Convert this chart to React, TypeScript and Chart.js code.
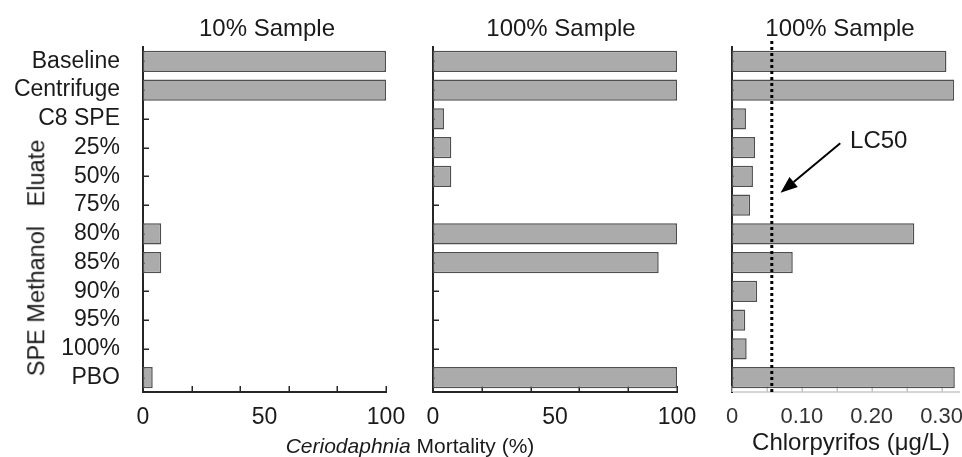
import React, { useEffect, useRef } from "react";
import { Chart, registerables } from "chart.js";

Chart.register(...registerables);

// ---------------- data ----------------
const categories = [
  "Baseline",
  "Centrifuge",
  "C8 SPE",
  "25%",
  "50%",
  "75%",
  "80%",
  "85%",
  "90%",
  "95%",
  "100%",
  "PBO",
];
const mortality10 = [100, 100, 0, 0, 0, 0, 7.5, 7.5, 0, 0, 0, 4];
const mortality100 = [100, 100, 4.5, 7.5, 7.5, 0, 100, 92.5, 0, 0, 0, 100];
const chlorpyrifos100 = [
  0.307, 0.318, 0.02, 0.033, 0.03, 0.026, 0.261, 0.087, 0.036, 0.019, 0.021, 0.319,
];
const panelTitles = ["10% Sample", "100% Sample", "100% Sample"];
const mortalityTickMarks = [0, 20, 40, 60, 80, 100];
const mortalityLabelValues = [0, 50, 100];
const mortalityLabelTexts = ["0", "50", "100"];
const chlorTickMarks = [0, 0.05, 0.1, 0.15, 0.2, 0.25, 0.3];
const chlorLabelValues = [0, 0.1, 0.2, 0.3];
const chlorLabelTexts = ["0", "0.10", "0.20", "0.30"];
const lc50Value = 0.057;
const lc50Label = "LC50";
// annotation anchors in data units: [µg/L, category index]
const lc50ArrowFrom = [0.155, 2.85];
const lc50ArrowTo = [0.0695, 4.57];
const lc50LabelAt = [0.169, 2.79];
const groupLabel = "SPE Methanol   Eluate";
const mortalityAxisItalic = "Ceriodaphnia";
const mortalityAxisRest = " Mortality (%)";
const chlorAxisTitle = "Chlorpyrifos (\u03bcg/L)";

// ---------------- layout ----------------
const W = 962;
const H = 457;
const CW = W + 40; // canvas wider than the view so edge labels never squeeze the plot
const PLOT_TOP = 47;
const PLOT_BOTTOM = 392;
const XAXIS_H = 40;
const FONT = '"Liberation Sans", Arial, Helvetica, sans-serif';
const NARROW = '"Liberation Sans Narrow", "Arial Narrow", "Liberation Sans", Arial, sans-serif';
const TEXT = "#1a1a1a";
const BAR_FILL = "#ababab";
const BAR_BORDER = "#4f4f4f";

type Panel = {
  values: number[];
  left: number;
  right: number;
  yW: number;
  showY: boolean;
  max: number;
  step: number;
  marks: number[];
  labelValues: number[];
  labelTexts: string[];
  tickFamily: string;
  tickSize: number;
  tickColor: string;
  xBorderColor: string;
  markColor: string;
  lc50: boolean;
};

const panels: Panel[] = [
  {
    values: mortality10,
    left: 143,
    right: 386,
    yW: 143,
    showY: true,
    max: 100,
    step: 10,
    marks: mortalityTickMarks,
    labelValues: mortalityLabelValues,
    labelTexts: mortalityLabelTexts,
    tickFamily: FONT,
    tickSize: 23,
    tickColor: TEXT,
    xBorderColor: "#262626",
    markColor: "#262626",
    lc50: false,
  },
  {
    values: mortality100,
    left: 433,
    right: 677,
    yW: 10,
    showY: false,
    max: 100,
    step: 10,
    marks: mortalityTickMarks,
    labelValues: mortalityLabelValues,
    labelTexts: mortalityLabelTexts,
    tickFamily: FONT,
    tickSize: 23,
    tickColor: TEXT,
    xBorderColor: "#262626",
    markColor: "#262626",
    lc50: false,
  },
  {
    values: chlorpyrifos100,
    left: 732,
    right: 959,
    yW: 10,
    showY: false,
    max: 0.325,
    step: 0.05,
    marks: chlorTickMarks,
    labelValues: chlorLabelValues,
    labelTexts: chlorLabelTexts,
    tickFamily: NARROW,
    tickSize: 22,
    tickColor: "#333333",
    xBorderColor: "#d6d6d6",
    markColor: "#c4c4c4",
    lc50: true,
  },
];

const titleCenters = [267, 561, 840];

function inwardTicks(p: Panel) {
  return {
    id: "inwardTicks",
    beforeDatasetsDraw(chart: any) {
      const { ctx, chartArea, scales } = chart;
      ctx.save();
      ctx.lineWidth = 1.5;
      ctx.strokeStyle = p.markColor;
      ctx.beginPath();
      for (const v of p.marks) {
        const px = Math.round(scales.x.getPixelForValue(v)) + 0.25;
        ctx.moveTo(px, chartArea.bottom);
        ctx.lineTo(px, chartArea.bottom - 6);
      }
      ctx.stroke();
      ctx.strokeStyle = "#262626";
      ctx.beginPath();
      categories.forEach((_, i) => {
        const py = Math.round(scales.y.getPixelForValue(i)) + 0.25;
        ctx.moveTo(chartArea.left, py);
        ctx.lineTo(chartArea.left + 6, py);
      });
      ctx.stroke();
      ctx.restore();
    },
  };
}

const lc50Plugin = {
  id: "lc50",
  afterDatasetsDraw(chart: any) {
    const { ctx, chartArea } = chart;
    const x = chart.scales.x;
    const y = chart.scales.y;
    const px = x.getPixelForValue(lc50Value);
    ctx.save();
    ctx.strokeStyle = "#000";
    ctx.fillStyle = "#000";
    ctx.lineWidth = 3;
    ctx.setLineDash([3, 3]);
    ctx.beginPath();
    ctx.moveTo(px, chartArea.top - 6);
    ctx.lineTo(px, chartArea.bottom);
    ctx.stroke();
    ctx.setLineDash([]);

    const x1 = x.getPixelForValue(lc50ArrowFrom[0]);
    const y1 = y.getPixelForValue(lc50ArrowFrom[1]);
    const x2 = x.getPixelForValue(lc50ArrowTo[0]);
    const y2 = y.getPixelForValue(lc50ArrowTo[1]);
    const ang = Math.atan2(y2 - y1, x2 - x1);
    const headLen = 17;
    const headW = 6.5;
    const bx = x2 - headLen * Math.cos(ang);
    const by = y2 - headLen * Math.sin(ang);
    ctx.lineWidth = 2;
    ctx.beginPath();
    ctx.moveTo(x1, y1);
    ctx.lineTo(bx, by);
    ctx.stroke();
    ctx.beginPath();
    ctx.moveTo(x2, y2);
    ctx.lineTo(bx + headW * Math.sin(ang), by - headW * Math.cos(ang));
    ctx.lineTo(bx - headW * Math.sin(ang), by + headW * Math.cos(ang));
    ctx.closePath();
    ctx.fill();

    ctx.font = `24px ${FONT}`;
    ctx.fillStyle = TEXT;
    ctx.textAlign = "left";
    ctx.textBaseline = "middle";
    ctx.fillText(lc50Label, x.getPixelForValue(lc50LabelAt[0]), y.getPixelForValue(lc50LabelAt[1]));
    ctx.restore();
  },
};

function buildConfig(p: Panel): any {
  const plugins: any[] = [inwardTicks(p)];
  if (p.lc50) plugins.push(lc50Plugin);
  return {
    type: "bar",
    data: {
      labels: categories,
      datasets: [
        {
          data: p.values,
          backgroundColor: BAR_FILL,
          borderColor: BAR_BORDER,
          borderWidth: 1.5,
          borderSkipped: false,
          barPercentage: 0.74,
          categoryPercentage: 1,
        },
      ],
    },
    options: {
      indexAxis: "y",
      responsive: false,
      animation: false,
      events: [],
      layout: {
        padding: {
          top: PLOT_TOP,
          bottom: H - PLOT_BOTTOM - XAXIS_H,
          left: p.left - p.yW,
          right: CW - p.right,
        },
      },
      plugins: {
        legend: { display: false },
        tooltip: { enabled: false },
        title: { display: false },
      },
      scales: {
        x: {
          type: "linear",
          position: "bottom",
          min: 0,
          max: p.max,
          grid: { display: false, drawTicks: false },
          border: { display: true, color: p.xBorderColor, width: 2 },
          ticks: {
            stepSize: p.step,
            includeBounds: false,
            autoSkip: false,
            maxRotation: 0,
            padding: 12,
            color: p.tickColor,
            font: { family: p.tickFamily, size: p.tickSize },
            callback: (v: any) => {
              const idx = p.labelValues.findIndex((lv) => Math.abs(lv - Number(v)) < 1e-9);
              return idx >= 0 ? p.labelTexts[idx] : "";
            },
          },
          afterFit: (s: any) => {
            s.height = XAXIS_H;
          },
        },
        y: {
          type: "category",
          position: "left",
          grid: { display: false, drawTicks: false },
          border: { display: true, color: "#262626", width: 2 },
          ticks: {
            display: p.showY,
            autoSkip: false,
            padding: 23,
            color: TEXT,
            font: { family: FONT, size: 23 },
          },
          afterFit: (s: any) => {
            s.width = p.yW;
          },
        },
      },
    },
    plugins,
  };
}

export default function App() {
  const r0 = useRef<HTMLCanvasElement>(null);
  const r1 = useRef<HTMLCanvasElement>(null);
  const r2 = useRef<HTMLCanvasElement>(null);

  useEffect(() => {
    const refs = [r0, r1, r2];
    const charts = panels.map((p, i) => new Chart(refs[i].current as HTMLCanvasElement, buildConfig(p)));
    return () => charts.forEach((c) => c.destroy());
  }, []);

  const canvasStyle: React.CSSProperties = { position: "absolute", left: 0, top: 0 };
  const centered = (cx: number, cy: number, size: number): React.CSSProperties => ({
    position: "absolute",
    left: cx,
    top: cy,
    transform: "translate(-50%, -50%)",
    fontSize: size,
    lineHeight: 1,
    whiteSpace: "pre",
    color: TEXT,
    fontFamily: FONT,
  });

  return (
    <div
      style={{
        position: "fixed",
        left: 0,
        top: 0,
        width: W,
        height: H,
        overflow: "hidden",
        background: "#ffffff",
        fontFamily: FONT,
      }}
    >
      <canvas ref={r0} width={CW} height={H} style={canvasStyle} />
      <canvas ref={r1} width={CW} height={H} style={canvasStyle} />
      <canvas ref={r2} width={CW} height={H} style={canvasStyle} />
      {panelTitles.map((t, i) => (
        <div key={i} style={centered(titleCenters[i], 28, 24)}>
          {t}
        </div>
      ))}
      <div style={{ ...centered(36.5, 257.5, 23.5), transform: "translate(-50%, -50%) rotate(-90deg)" }}>
        {groupLabel}
      </div>
      <div style={centered(410, 445, 21)}>
        <i>{mortalityAxisItalic}</i>
        {mortalityAxisRest}
      </div>
      <div style={centered(851, 442, 24)}>{chlorAxisTitle}</div>
    </div>
  );
}
